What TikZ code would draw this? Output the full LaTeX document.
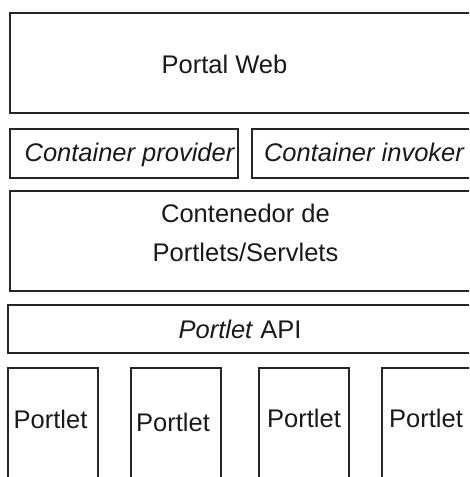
\documentclass[tikz,border=0pt]{standalone}
\usepackage{fontspec}
\setmainfont{Liberation Sans}
\begin{document}
\begin{tikzpicture}[x=1pt,y=-1pt,
  box/.style={draw=black!85,line width=2pt},
  lbl/.style={anchor=base,inner sep=0pt,font=\fontsize{25.5}{30}\selectfont,text=black!90}]
\useasboundingbox (0,0) rectangle (469,477);
\clip (0,0) rectangle (469,477);
% boxes
\draw[box] (10,13) rectangle (490,113);
\draw[box] (10,129) rectangle (238,178);
\draw[box] (252,129) rectangle (490,178);
\draw[box] (10,191) rectangle (490,291);
\draw[box] (8,305) rectangle (490,353);
\draw[box] (8,368) rectangle (98,490);
\draw[box] (131,368) rectangle (221,490);
\draw[box] (259,368) rectangle (349,490);
\draw[box] (382,368) rectangle (490,490);
% labels
\node[lbl] (portal) at (224.5,73) {Portal Web};
\node[lbl] (prov) at (129.5,161) {\itshape Container provider};
\node[lbl] (inv) at (364,161) {\itshape Container invoker};
\node[lbl] (cont1) at (245.5,222) {Contenedor de};
\node[lbl] (cont2) at (245.5,261) {Portlets/Servlets};
\node[lbl] (api) at (240,338) {\textit{Portlet} API};
\node[lbl] (p1) at (50.5,428) {Portlet};
\node[lbl] (p2) at (173,431) {Portlet};
\node[lbl] (p3) at (304,427) {Portlet};
\node[lbl] (p4) at (426,427) {Portlet};
\end{tikzpicture}
\end{document}
